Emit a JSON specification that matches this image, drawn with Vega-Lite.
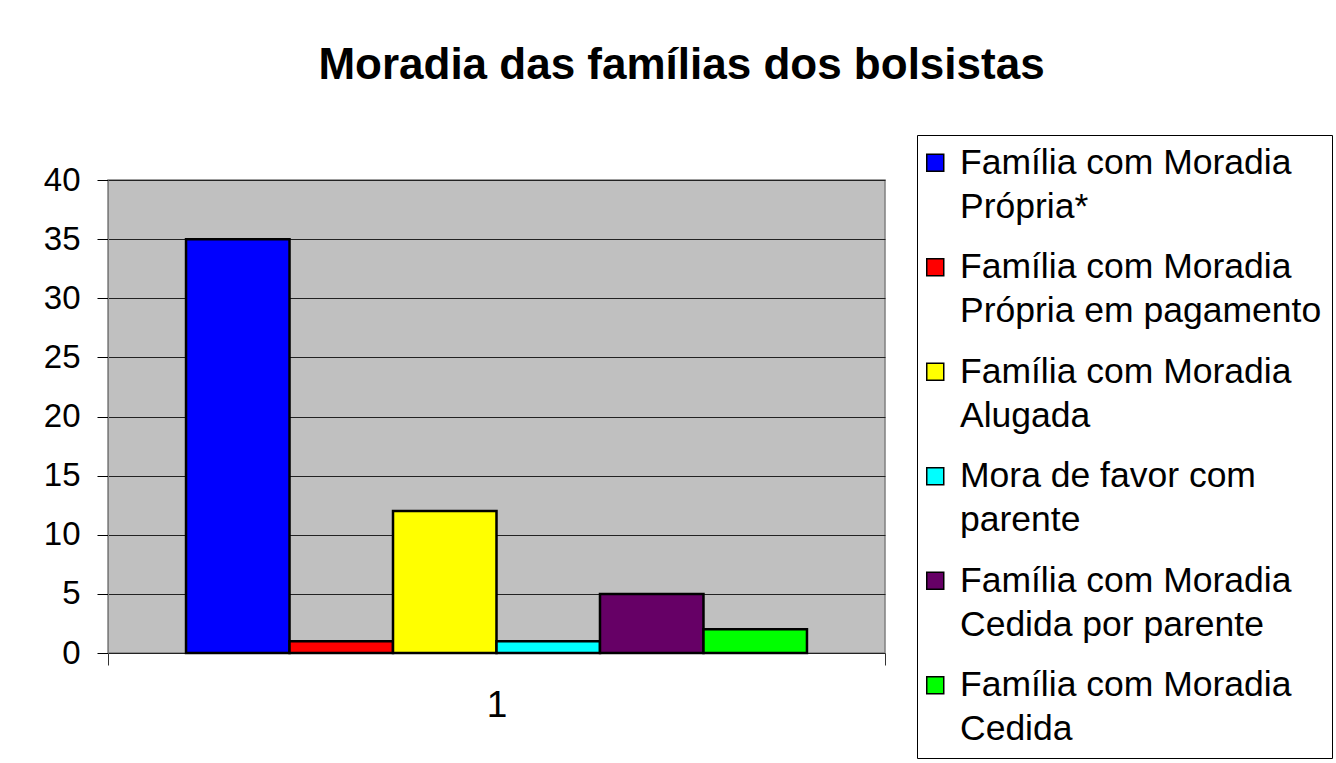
{
  "$schema": "https://vega.github.io/schema/vega-lite/v6.json",
  "width": 777,
  "height": 473,
  "autosize": {"type": "none"},
  "padding": {"left": 108, "top": 180, "right": 451, "bottom": 110},
  "background": "white",
  "title": {
    "text": "Moradia das famílias dos bolsistas",
    "fontSize": 44,
    "fontWeight": "bold",
    "font": "Liberation Sans",
    "color": "black",
    "anchor": "middle",
    "frame": "group",
    "dx": 185,
    "offset": 47
  },
  "data": {
    "values": [
      {"grupo": "1", "serie": "Família com Moradia Própria*", "valor": 35},
      {"grupo": "1", "serie": "Família com Moradia Própria em pagamento", "valor": 1},
      {"grupo": "1", "serie": "Família com Moradia Alugada", "valor": 12},
      {"grupo": "1", "serie": "Mora de favor com parente", "valor": 1},
      {"grupo": "1", "serie": "Família com Moradia Cedida por parente", "valor": 5},
      {"grupo": "1", "serie": "Família com Moradia Cedida", "valor": 2}
    ]
  },
  "mark": {"type": "bar", "stroke": "black", "strokeWidth": 2.5},
  "encoding": {
    "x": {
      "field": "grupo",
      "type": "nominal",
      "title": null,
      "scale": {"paddingInner": 0, "paddingOuter": 0},
      "axis": {
        "labelAngle": 0,
        "labelFontSize": 37,
        "labelPadding": 22,
        "tickBand": "extent",
        "tickSize": 12,
        "tickColor": "#333333",
        "domain": false
      }
    },
    "xOffset": {
      "field": "serie",
      "type": "nominal",
      "sort": null,
      "scale": {"paddingInner": 0, "paddingOuter": 0.754}
    },
    "y": {
      "field": "valor",
      "type": "quantitative",
      "title": null,
      "scale": {"domain": [0, 40], "nice": false},
      "axis": {
        "values": [0, 5, 10, 15, 20, 25, 30, 35, 40],
        "labelFontSize": 33,
        "labelPadding": 17,
        "tickSize": 11,
        "tickColor": "black",
        "domainColor": "#808080",
        "gridColor": "#222222",
        "grid": true
      }
    },
    "fill": {
      "field": "serie",
      "type": "nominal",
      "sort": null,
      "scale": {
        "range": ["#0000FF", "#FF0000", "#FFFF00", "#00FFFF", "#660066", "#00FF00"]
      },
      "legend": {
        "title": null,
        "orient": "none",
        "legendX": 809,
        "legendY": -45,
        "direction": "vertical",
        "labelFontSize": 35.5,
        "labelColor": "black",
        "labelLimit": 420,
        "labelOffset": 7,
        "labelBaseline": "middle",
        "symbolType": "square",
        "symbolSize": 289,
        "symbolStrokeColor": "black",
        "symbolStrokeWidth": 1.5,
        "symbolOffset": -9.5,
        "rowPadding": 23.5,
        "padding": 10,
        "strokeColor": "black",
        "fillColor": "white",
        "labelExpr": "datum.label == 'Mora de favor com parente' ? ['Mora de favor com', 'parente'] : ['Família com Moradia', substring(datum.label, 20)]"
      }
    }
  },
  "config": {
    "font": "Liberation Sans",
    "view": {"fill": "#C0C0C0", "stroke": "#808080", "strokeWidth": 1.5},
    "axis": {"labelColor": "black", "labelFont": "Liberation Sans"},
    "style": {"guide-label": {"lineHeight": 44}}
  }
}
